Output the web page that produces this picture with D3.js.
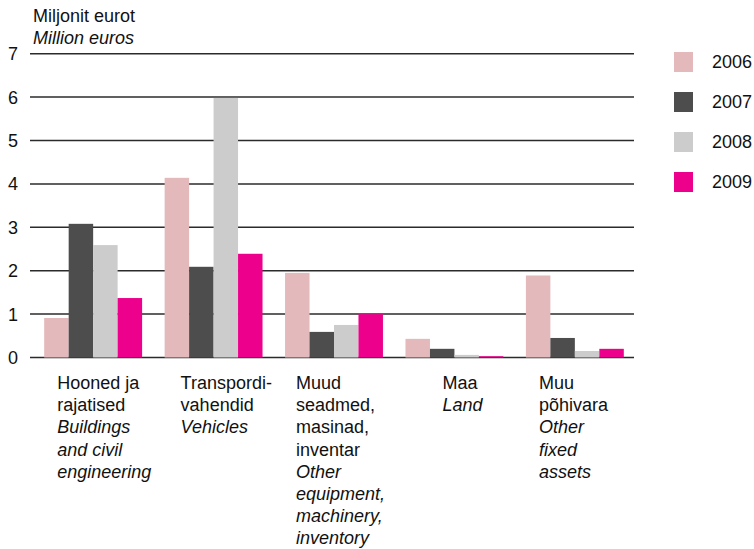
<!DOCTYPE html>
<html>
<head>
<meta charset="utf-8">
<script src="https://cdn.jsdelivr.net/npm/d3@7"></script>
<style>
  html, body { margin: 0; padding: 0; background: #fff; }
  svg { display: block; font-family: "Liberation Sans", Arial, sans-serif; }
</style>
</head>
<body>
<svg id="chart" width="754" height="549"></svg>
<script>
// Investment by fixed asset type, million euros
const years = ["2006", "2007", "2008", "2009"];
const categories = ["buildings", "vehicles", "equipment", "land", "other"];
const categoryLabels = [
  [["Hooned ja", false], ["rajatised", false], ["Buildings", true], ["and civil", true], ["engineering", true]],
  [["Transpordi-", false], ["vahendid", false], ["Vehicles", true]],
  [["Muud", false], ["seadmed,", false], ["masinad,", false], ["inventar", false], ["Other", true], ["equipment,", true], ["machinery,", true], ["inventory", true]],
  [["Maa", false], ["Land", true]],
  [["Muu", false], ["põhivara", false], ["Other", true], ["fixed", true], ["assets", true]]
];
const values2006 = [0.91, 4.14, 1.95, 0.43, 1.89];
const values2007 = [3.08, 2.09, 0.59, 0.20, 0.45];
const values2008 = [2.59, 5.98, 0.75, 0.06, 0.15];
const values2009 = [1.37, 2.39, 1.00, 0.03, 0.20];
const yTicks = [0, 1, 2, 3, 4, 5, 6, 7];

const series = [values2006, values2007, values2008, values2009];
const colors = ["#e3b9bb", "#4d4d4d", "#cccccc", "#ec008c"];
const fontSize = 18;

const svg = d3.select("#chart");
const plotLeft = 30, plotRight = 634;

const y = d3.scaleLinear().domain([0, 7]).range([357.5, 53.7]);
const x0 = d3.scaleBand().domain(categories).range([33, 635])
  .paddingInner(0.187).paddingOuter(0.093);
const x1 = d3.scaleBand().domain(years).range([0, x0.bandwidth()]);

// Horizontal gridlines
svg.append("g").selectAll("line").data(yTicks).join("line")
  .attr("x1", plotLeft).attr("x2", plotRight)
  .attr("y1", d => y(d)).attr("y2", d => y(d))
  .attr("stroke", "#2b2b2b").attr("stroke-width", 1.5);

// Y tick labels
svg.append("g").selectAll("text").data(yTicks).join("text")
  .attr("x", 13).attr("y", d => y(d)).attr("dy", "0.36em")
  .attr("text-anchor", "middle").attr("font-size", fontSize).attr("fill", "#111")
  .text(d => d);

// Unit title
svg.append("text").attr("x", 33).attr("y", 22).attr("font-size", fontSize).attr("fill", "#111")
  .text("Miljonit eurot");
svg.append("text").attr("x", 33).attr("y", 44).attr("font-size", fontSize).attr("fill", "#111")
  .attr("font-style", "italic").text("Million euros");

// Bars
const groups = svg.append("g").selectAll("g").data(categories).join("g")
  .attr("transform", d => `translate(${x0(d)},0)`);
groups.selectAll("rect")
  .data((d, i) => years.map((yr, j) => ({ yr, v: series[j][i], c: colors[j] })))
  .join("rect")
  .attr("x", d => x1(d.yr))
  .attr("width", x1.bandwidth())
  .attr("y", d => y(d.v))
  .attr("height", d => y(0) - y(d.v))
  .attr("fill", d => d.c);

// Category labels (left-aligned blocks under each group)
const labelOffsets = [13, 16, 11, 37, 13];
categories.forEach((c, i) => {
  const t = svg.append("text")
    .attr("x", x0(c) + labelOffsets[i]).attr("y", 389)
    .attr("font-size", fontSize).attr("fill", "#111");
  categoryLabels[i].forEach(([line, it], k) => {
    t.append("tspan").attr("x", x0(c) + labelOffsets[i])
      .attr("dy", k === 0 ? 0 : 22.2)
      .attr("font-style", it ? "italic" : "normal")
      .text(line);
  });
});

// Legend
const legend = svg.append("g").selectAll("g").data(years).join("g")
  .attr("transform", (d, i) => `translate(674,${52 + i * 40})`);
legend.append("rect").attr("width", 19).attr("height", 20).attr("fill", (d, i) => colors[i]);
legend.append("text").attr("x", 38).attr("y", 10).attr("dy", "0.36em")
  .attr("font-size", fontSize).attr("fill", "#111").text(d => d);
</script>
</body>
</html>
